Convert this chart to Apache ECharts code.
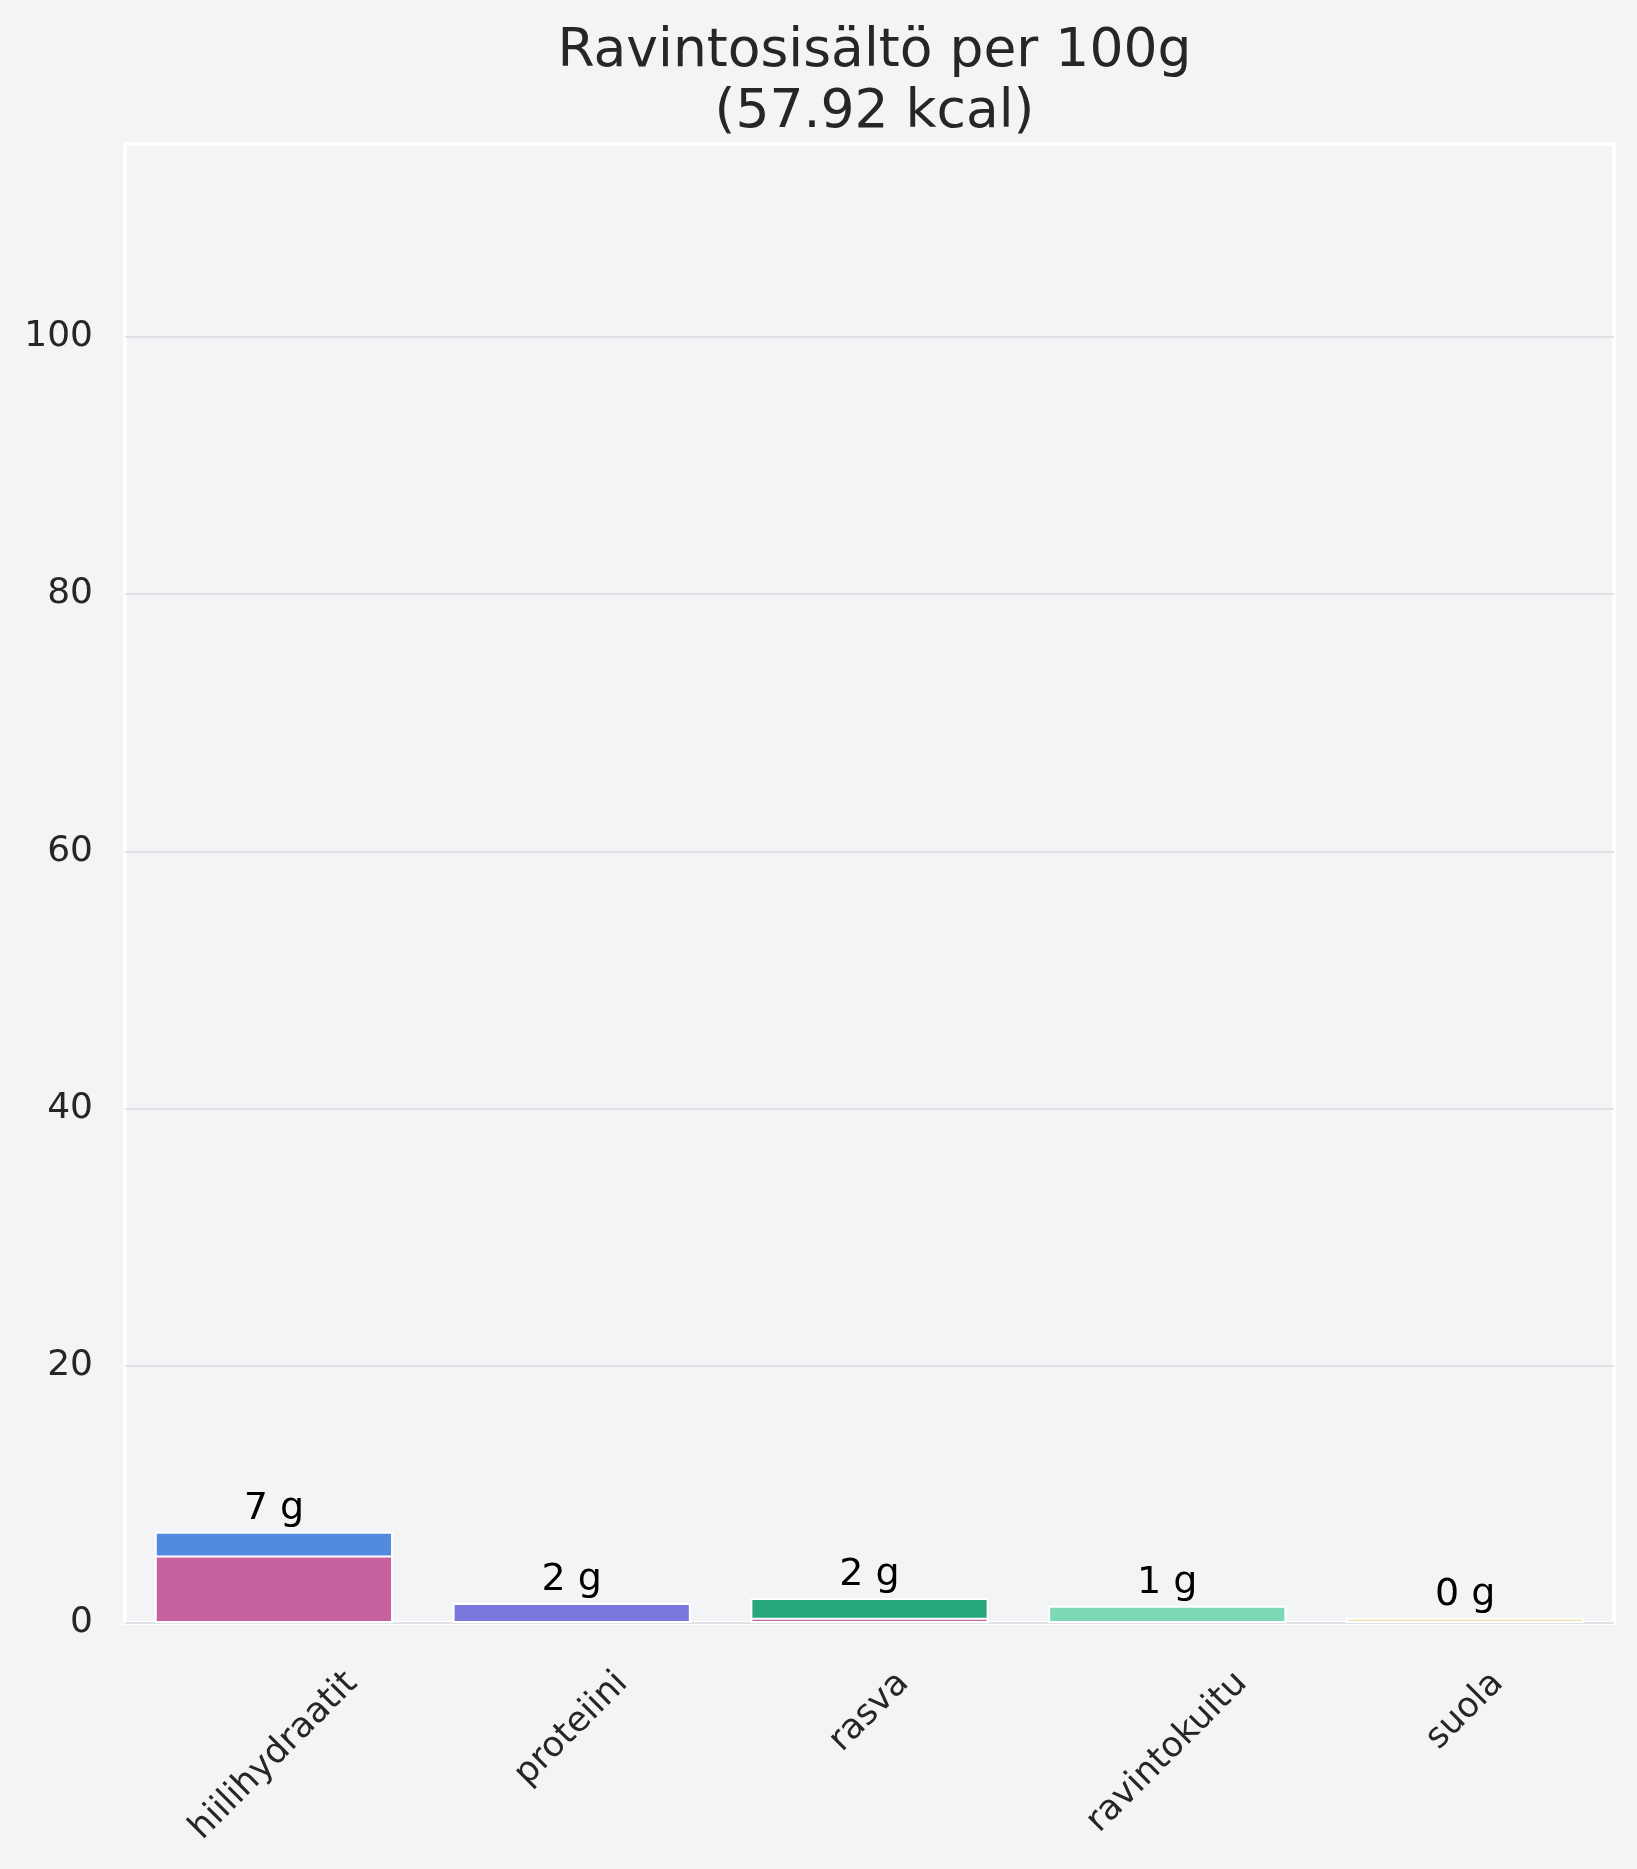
<!DOCTYPE html>
<html>
<head>
<meta charset="utf-8">
<script src="https://cdn.jsdelivr.net/npm/echarts@6/dist/echarts.min.js"></script>
<style>
html,body{margin:0;padding:0;background:#f3f4f6;}
#c{width:1637px;height:1869px;}
</style>
</head>
<body>
<div id="c"></div>
<script>
const categories = ['hiilihydraatit', 'proteiini', 'rasva', 'ravintokuitu', 'suola'];
const mainValues = [7.1, 1.55, 1.95, 1.35, 0.4];
const subValues = [5.25, null, 0.4, null, null];
const mainColors = ['#528ae0', '#7a78dc', '#27a67c', '#7dd8b5', '#ebe1a6'];
const subColor = '#c8629f';
const yTicks = [0, 20, 40, 60, 80, 100];
const titleText = 'Ravintosisältö per 100g\n(57.92 kcal)';

const FONT = '"DejaVu Sans", sans-serif';
const xFont = 35;
const cv = document.createElement('canvas').getContext('2d');
cv.font = xFont + 'px ' + FONT;
// rotated labels centred under ticks (matplotlib ha=center style)
const rich = { t: { fontFamily: FONT, fontSize: xFont, color: '#262626', lineHeight: 40 } };
categories.forEach(function (c, i) {
  const L = cv.measureText(c).width;
  rich['g' + i] = { fontSize: 1, lineHeight: 0.5 * L };
  rich['s' + i] = { fontSize: 1, width: 0.5 * L };
});

const chart = echarts.init(document.getElementById('c'), null, { renderer: 'canvas' });
chart.setOption({
  backgroundColor: '#f3f4f6',
  animation: false,
  title: {
    text: titleText,
    left: 869.5,
    top: 17,
    textAlign: 'center',
    textStyle: { fontFamily: FONT, fontSize: 53.5, fontWeight: 'normal', color: '#262626', lineHeight: 61 }
  },
  grid: {
    left: 125, right: 23, top: 144, bottom: 246,
    containLabel: false, outerBoundsMode: 'none',
    show: true, borderColor: '#ffffff', borderWidth: 4, backgroundColor: 'transparent'
  },
  xAxis: {
    type: 'category',
    data: categories,
    axisLine: { show: false },
    axisTick: { show: false },
    splitLine: { show: false },
    axisLabel: {
      rotate: 45, interval: 0, margin: 55,
      align: 'center', verticalAlign: 'middle',
      fontFamily: FONT, fontSize: xFont, color: '#262626',
      rich: rich,
      formatter: function (v, i) { return '{g' + i + '| }\n{t|' + v + '}{s' + i + '| }'; }
    }
  },
  yAxis: {
    type: 'value',
    min: 0, max: 115, interval: 20,
    axisLine: { show: false },
    axisTick: { show: false },
    splitLine: { show: true, showMaxLine: false, lineStyle: { color: '#e0e2e6', width: 2 } },
    axisLabel: {
      margin: 32, fontFamily: FONT, fontSize: 36, color: '#262626',
      showMaxLabel: false,
      formatter: function (v) { return yTicks.indexOf(v) >= 0 ? String(v) : ''; }
    }
  },
  series: [
    {
      type: 'bar',
      barCategoryGap: '20%',
      barGap: '-100%',
      data: mainValues.map(function (v, i) { return { value: v, itemStyle: { color: mainColors[i] } }; }),
      itemStyle: { borderColor: '#ffffff', borderWidth: 2 },
      label: {
        show: true, position: 'top', distance: 3,
        fontFamily: FONT, fontSize: 38, color: '#000000', lineHeight: 40,
        formatter: function (p) { return Math.round(p.value) + ' g'; }
      },
      z: 2
    },
    {
      type: 'bar',
      barCategoryGap: '20%',
      barGap: '-100%',
      data: subValues,
      itemStyle: { color: subColor, borderColor: '#ffffff', borderWidth: 2 },
      z: 3
    }
  ]
});
</script>
</body>
</html>
